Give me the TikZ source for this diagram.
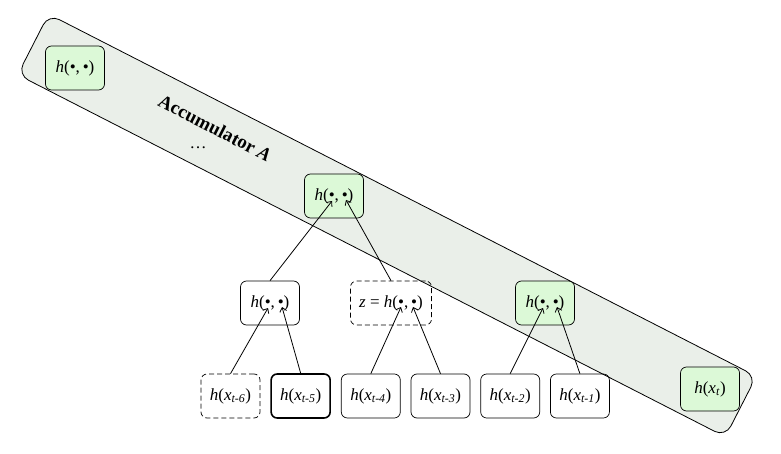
\documentclass[tikz,border=0pt]{standalone}
\usepackage{fontspec}
\setmainfont{Liberation Serif}
\usetikzlibrary{positioning,calc,arrows.meta}

\definecolor{accfill}{RGB}{234,239,233}
\definecolor{hashfill}{RGB}{220,249,215}

\newcommand{\hb}{\textit{h}(\textbullet,\,\textbullet)}
\newcommand{\hx}[1]{\textit{h}(\textit{x}\textsubscript{\textit{#1}})}

\begin{document}
\begin{tikzpicture}[x=1pt,y=-1pt,font=\fontsize{17}{19}\selectfont,
    hbox/.style={draw,rounded corners=6pt,minimum width=59pt,minimum height=44pt,inner sep=0pt,line width=0.7pt},
    accbox/.style={hbox,fill=hashfill},
    dashbox/.style={hbox,dash pattern=on 5pt off 3pt},
    edge/.style={-{Straight Barb[length=4pt,width=7pt]},line width=0.8pt}]
    \useasboundingbox (0,0) rectangle (781,454);

    % accumulator band
    \node[draw,fill=accfill,rounded corners=12pt,line width=0.8pt,rotate=-27.1,
          minimum width=795pt,minimum height=68pt] (band) at (387,225.5) {};
    \node[rotate=-27.1,font=\fontsize{19}{21}\selectfont\bfseries] (title) at (215,128) {Accumulator \textit{A}};
    \node (dots) at (198,148) {\dots};

    % accumulator entries
    \node[accbox] (a1) at (75,68) {\hb};
    \node[accbox] (a2) at (334,196) {\hb};
    \node[accbox] (a3) at (545,303) {\hb};
    \node[accbox] (a4) at (710,389) {\hx{t}};

    % inner nodes
    \node[hbox] (p1) at (270,303) {\hb};
    \node[dashbox,minimum width=81pt] (z) at (391,303) {\textit{z} = \hb};

    % leaves
    \node[dashbox] (l6) at (230.5,396) {\hx{t-6}};
    \node[hbox,line width=1.6pt,right=10pt of l6] (l5) {\hx{t-5}};
    \node[hbox,right=10pt of l5] (l4) {\hx{t-4}};
    \node[hbox,right=10pt of l4] (l3) {\hx{t-3}};
    \node[hbox,right=10pt of l3] (l2) {\hx{t-2}};
    \node[hbox,right=10pt of l2] (l1) {\hx{t-1}};

    \draw[edge] (l6.north) -- ($(p1.center)+(-2,5)$);
    \draw[edge] (l5.north) -- ($(p1.center)+(12,4)$);
    \draw[edge] (l4.north) -- ($(z.center)+(10,4)$);
    \draw[edge] (l3.north) -- ($(z.center)+(22,4)$);
    \draw[edge] (l2.north) -- ($(a3.center)+(-2,5)$);
    \draw[edge] (l1.north) -- ($(a3.center)+(12,4)$);
    \draw[edge] (p1.north) -- ($(a2.center)+(-2,5)$);
    \draw[edge] (z.north) -- ($(a2.center)+(12,4)$);
\end{tikzpicture}
\end{document}
